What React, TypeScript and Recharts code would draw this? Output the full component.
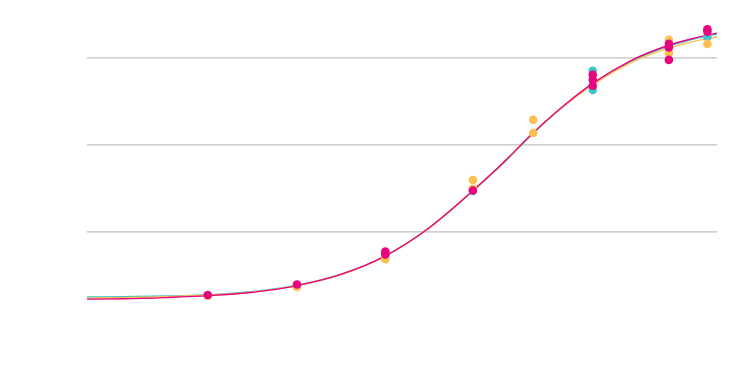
import React from "react";
import { ComposedChart, Line, Scatter, XAxis, YAxis, ReferenceLine } from "recharts";

// log concentration positions for the fitted curves
const curveX = [-10.4, -10, -9.5, -9, -8.5, -8, -7.5, -7, -6.5, -6, -5.65, -5.3, -4.95, -4.6, -4.2, -3.75, -3.5, -3.3, -3.2];
const tealCurve = [6.3, 6.4, 6.6, 7.0, 7.9, 9.7, 12.8, 18.0, 26.0, 36.5, 44.5, 53.3, 61.1, 67.8, 73.8, 78.4, 80.2, 81.4, 81.8];
const orangeCurve = [6.0, 6.1, 6.4, 6.9, 7.8, 9.6, 12.7, 17.9, 25.9, 36.6, 44.7, 53.4, 61.1, 67.6, 73.4, 77.8, 79.5, 80.6, 81.0];
const magentaCurve = [5.7, 5.8, 6.15, 6.7, 7.7, 9.6, 12.8, 18.0, 26.0, 36.6, 44.7, 53.5, 61.3, 68.0, 74.0, 78.6, 80.4, 81.6, 82.1];

// measured replicates
const tealX = [-9.02, -8, -6.99, -5.99, -4.62, -4.62, -3.31];
const tealY = [6.8, 9.6, 18.6, 36.8, 71.3, 65.8, 81.0];
const orangeX = [-9.02, -8, -6.99, -5.99, -5.99, -5.3, -5.3, -3.75, -3.75, -3.31];
const orangeY = [6.7, 9.2, 17.2, 39.9, 37.4, 57.2, 53.4, 80.2, 76.4, 79.0];
const magentaX = [-9.02, -8, -6.99, -6.99, -5.99, -4.62, -4.62, -4.62, -3.75, -3.75, -3.75, -3.31, -3.31];
const magentaY = [6.9, 9.9, 19.4, 18.5, 36.9, 70.1, 68.7, 67.0, 79.0, 78.0, 74.4, 83.2, 82.5];

const gridValues = [25, 50, 75];

const TEAL = "#3ec3c9";
const ORANGE = "#fdc050";
const MAGENTA = "#e8047f";

const toRows = (xs: number[], ys: number[]) => xs.map((x, i) => ({ x, y: ys[i] }));

const dot = (color: string) => (props: any) => (
  <circle cx={props.cx} cy={props.cy} r={4.3} fill={color} />
);

export default function App() {
  return (
    <ComposedChart
      width={730}
      height={375}
      margin={{ top: 15, right: 21, bottom: 64, left: 79 }}
    >
      <XAxis type="number" dataKey="x" domain={[-10.4, -3.2]} hide allowDataOverflow />
      <YAxis type="number" dataKey="y" domain={[0, 85]} hide allowDataOverflow />
      {gridValues.map((v) => (
        <ReferenceLine key={v} y={v} stroke="#bfbfbf" strokeWidth={1.2} />
      ))}
      <Line data={toRows(curveX, tealCurve)} dataKey="y" type="monotone" stroke={TEAL} strokeWidth={1.4} dot={false} isAnimationActive={false} />
      <Line data={toRows(curveX, orangeCurve)} dataKey="y" type="monotone" stroke={ORANGE} strokeWidth={1.4} dot={false} isAnimationActive={false} />
      <Line data={toRows(curveX, magentaCurve)} dataKey="y" type="monotone" stroke={MAGENTA} strokeWidth={1.4} dot={false} isAnimationActive={false} />
      <Scatter data={toRows(tealX, tealY)} dataKey="y" shape={dot(TEAL)} isAnimationActive={false} />
      <Scatter data={toRows(orangeX, orangeY)} dataKey="y" shape={dot(ORANGE)} isAnimationActive={false} />
      <Scatter data={toRows(magentaX, magentaY)} dataKey="y" shape={dot(MAGENTA)} isAnimationActive={false} />
    </ComposedChart>
  );
}
